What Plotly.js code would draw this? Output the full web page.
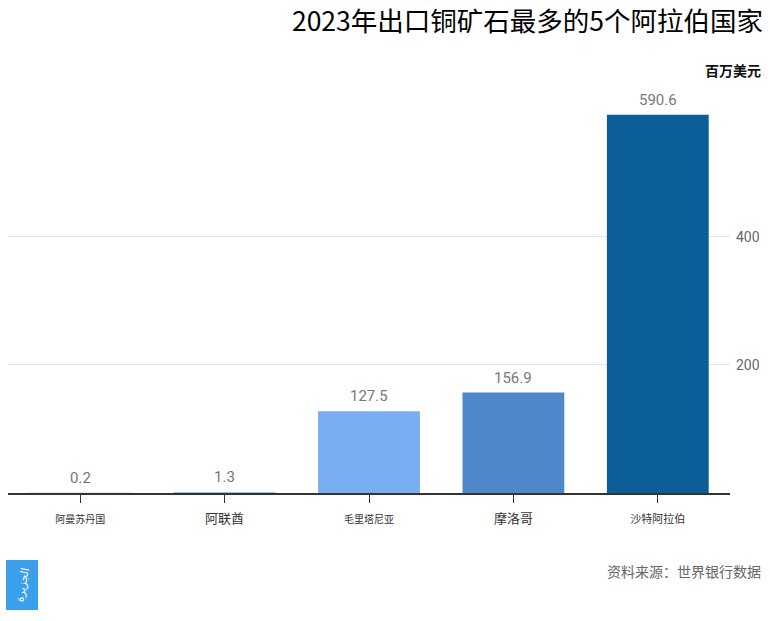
<!DOCTYPE html>
<html>
<head>
<meta charset="utf-8">
<script src="https://cdn.plot.ly/plotly-3.0.1.min.js"></script>
<style>html,body{margin:0;padding:0;background:#fff;}#chart{width:770px;height:621px;}</style>
</head>
<body>
<div id="chart"></div>
<script>
const categories = ["阿曼苏丹国", "阿联酋", "毛里塔尼亚", "摩洛哥", "沙特阿拉伯"];
const labelSizes = [10, 13, 10, 13, 11];
const values = [0.2, 1.3, 127.5, 156.9, 590.6];
const valueLabels = ["0.2", "1.3", "127.5", "156.9", "590.6"];
const barColors = ["#78aef0", "#78aef0", "#78aef0", "#4e88c8", "#0b5e98"];
const yTicks = [200, 400];
const titleText = "2023年出口铜矿石最多的5个阿拉伯国家";
const unitText = "百万美元";
const sourceText = "资料来源：世界银行数据";

const W = 770, H = 621;
const mL = 8, mR = 40, mT = 112, mB = 128;
const pw = W - mL - mR, ph = H - mT - mB;
const px = x => (x - mL) / pw;
const py = y => (H - mB - y) / ph;

const font = "Roboto, 'Noto Sans CJK SC', sans-serif";
const cjk = "'Noto Sans CJK SC', Roboto, sans-serif";

const trace = {
  type: "bar",
  x: categories,
  y: values,
  marker: {color: barColors},
  cliponaxis: false,
  hoverinfo: "none"
};

const valueAnnotations = categories.map((c, i) => ({
  x: c, y: values[i], xref: "x", yref: "y",
  text: valueLabels[i], showarrow: false,
  xanchor: "center", yanchor: "bottom", yshift: 4,
  font: {family: font, size: 15, color: "#777"}
}));

const layout = {
  width: W, height: H,
  margin: {l: mL, r: mR, t: mT, b: mB},
  paper_bgcolor: "#fff", plot_bgcolor: "#fff",
  bargap: 0.295,
  showlegend: false,
  font: {family: font},
  title: {
    text: titleText,
    font: {family: cjk, size: 26.5, color: "#000"},
    xref: "container", x: 763 / W, xanchor: "right",
    yref: "container", y: 1 - 22 / H, yanchor: "middle"
  },
  xaxis: {
    type: "category",
    tickvals: categories,
    ticktext: categories.map((c, i) => `<span style="font-size:${labelSizes[i]}px">${c}</span>`),
    tickfont: {family: cjk, size: 13, color: "#333"},
    showline: true, linecolor: "#333", linewidth: 1.5,
    ticks: "outside", ticklen: 8, tickcolor: "#333", tickwidth: 1,
    ticklabelstandoff: 5,
    showgrid: false, zeroline: false, fixedrange: true
  },
  yaxis: {
    side: "right",
    range: [0, 595],
    tickvals: yTicks,
    ticktext: yTicks.map(String),
    tickfont: {family: font, size: 14, color: "#666"},
    showgrid: true, gridcolor: "#e4e4e4", gridwidth: 1,
    ticks: "", zeroline: false, showline: false,
    ticklabelstandoff: 5, fixedrange: true
  },
  annotations: valueAnnotations.concat([
    {
      text: unitText, xref: "paper", yref: "paper",
      x: px(763), y: py(70), xanchor: "right", yanchor: "middle",
      showarrow: false, font: {family: cjk, size: 14, color: "#111", weight: "bold"}
    },
    {
      text: sourceText, xref: "paper", yref: "paper",
      x: px(763), y: py(571), xanchor: "right", yanchor: "middle",
      showarrow: false, font: {family: cjk, size: 14, color: "#666"}
    },
    {
      text: "الجزيرة", xref: "paper", yref: "paper",
      x: px(22), y: py(585), xanchor: "center", yanchor: "middle",
      textangle: -80,
      showarrow: false, font: {family: "'DejaVu Sans', sans-serif", size: 11, color: "#fff"}
    }
  ]),
  shapes: [
    {
      type: "rect", xref: "paper", yref: "paper",
      x0: px(6), x1: px(38), y0: py(610), y1: py(560),
      fillcolor: "#3aa0ec", line: {width: 0}, layer: "below"
    }
  ]
};

Plotly.newPlot("chart", [trace], layout, {displayModeBar: false, staticPlot: true});
</script>
</body>
</html>
